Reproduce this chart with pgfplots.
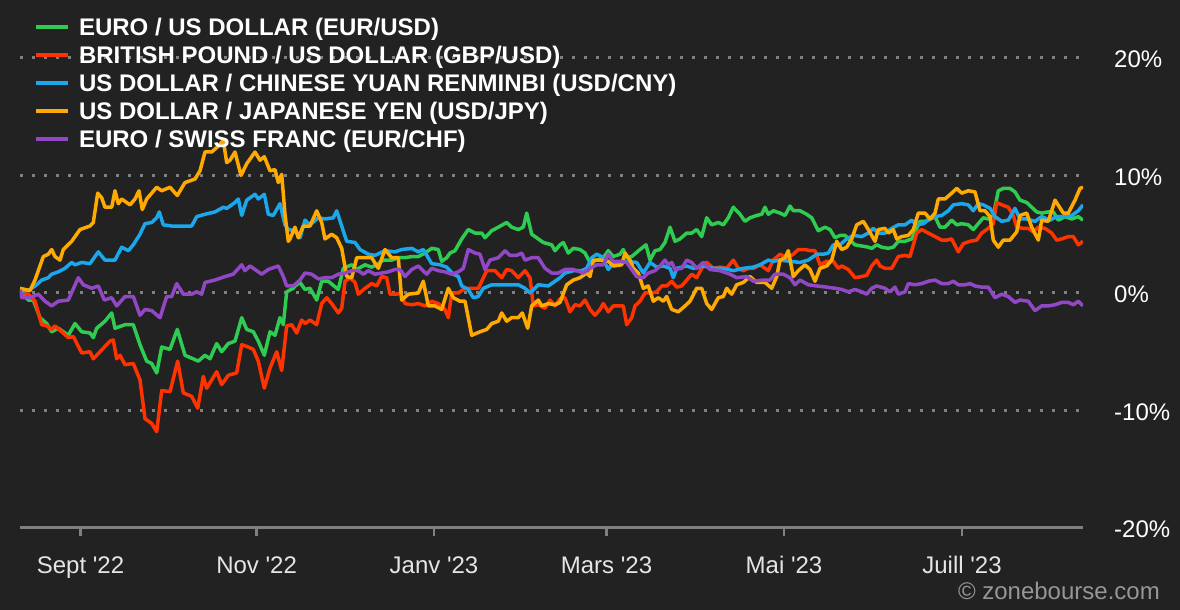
\documentclass[border=0pt]{standalone}
\usepackage{fontspec}
\setmainfont{Liberation Sans}
\usepackage{pgfplots}
\pgfplotsset{compat=1.18}
\definecolor{bg}{RGB}{34,34,34}
\definecolor{gridgray}{RGB}{128,128,128}
\definecolor{copygray}{RGB}{150,150,150}
\definecolor{cgreen}{RGB}{46,204,81}
\definecolor{cred}{RGB}{255,51,0}
\definecolor{cblue}{RGB}{26,167,236}
\definecolor{corange}{RGB}{255,170,0}
\definecolor{cpurple}{RGB}{146,72,198}
\newcommand\tickfont{\fontsize{24}{28}\selectfont}
\newcommand\legfont{\fontsize{24}{28}\selectfont\bfseries}
\begin{document}
\begin{tikzpicture}
\fill[bg, use as bounding box] (0,0) rectangle (1180pt,610pt);
\begin{axis}[
  at={(20pt,82pt)}, anchor=south west,
  scale only axis, width=1063pt, height=517pt,
  xmin=20, xmax=1083, ymin=-20, ymax=24,
  enlargelimits=false,
  axis x line*=bottom, axis y line*=right,
  x axis line style={draw=gridgray, line width=3pt},
  y axis line style={draw=none},
  tick align=outside, major tick length=8pt,
  xtick style={draw=gridgray, line width=2.5pt},
  ytick style={draw=none},
  xtick={80.5,256.6,434,606.5,784,962},
  xticklabels={Sept \textquotesingle 22, Nov \textquotesingle 22, Janv \textquotesingle 23, Mars \textquotesingle 23, Mai \textquotesingle 23, Juill \textquotesingle 23},
  ytick={-20,-10,0,10,20},
  yticklabels={-20\%,-10\%,0\%,10\%,20\%},
  xticklabel style={font=\tickfont, text=white!90!black, inner sep=0pt, anchor=base, yshift=-37pt},
  yticklabel style={font=\tickfont, text=white, inner sep=0pt, anchor=base west, xshift=23pt, yshift=-10pt},
  ymajorgrids,
  grid style={draw=gridgray, line width=3pt, dash pattern=on 3pt off 9pt},
  every axis plot post/.append style={line width=3.5pt, line join=round, no markers},
  legend style={at={(axis description cs:0,1)}, anchor=north west, xshift=14pt, yshift=-7.8pt,
    draw=none, fill=none, inner sep=0pt, outer sep=0pt, row sep=11pt,
    font=\legfont, text=white, nodes={inner sep=0pt, text height=17pt, text depth=0pt}},
  legend cell align=left,
  legend image code/.code={\draw[#1, line width=4pt] (0pt,0pt) -- (32pt,0pt); \path (41.3pt,0pt);},
]
\addplot[cgreen] coordinates {
(20,0.1) (28.3,-0.6) (33.3,-0.6) (40,-2.1) (46.7,-2.6) (51.7,-3.3) (58.3,-3.0) (68.3,-3.6) (75,-2.6) (81.7,-3.3) (90,-3.4) (93.3,-3.8) (96.7,-3.0) (105,-2.4) (111.7,-1.7) (115,-3.0) (125,-2.7) (133.3,-2.7) (140,-4.4) (146.7,-5.8) (151.7,-6.0) (156.7,-6.8) (161.7,-4.6) (170,-4.8) (177.3,-3.1) (185,-5.3) (198.3,-5.8) (205,-5.3) (210,-5.6) (216.7,-4.3) (221.7,-5.0) (228.3,-4.3) (235,-4.1) (241.7,-2.1) (246.7,-3.1) (253.3,-3.3) (258.3,-4.1) (264.3,-5.3) (270,-3.3) (275,-3.6) (280,-2.1) (283.3,-2.7) (286.7,0.1) (293.3,0.4)
(295,0.6) (300,0.9) (305,0.3) (310,0.4) (316.7,-0.6) (321.7,1.0) (328.3,1.0) (338.3,0.3) (343.3,2.1) (351.7,2.4) (356.7,2.0) (365,2.4) (371.7,2.2) (376.7,2.4) (383.3,2.8) (391.7,2.8) (398.3,3.0) (405,3.0) (411.7,3.1) (418.3,3.1) (425,3.4) (431.7,3.8) (438.3,3.7) (441.7,2.7) (446.7,3.0) (450,3.4) (455,3.6) (461.7,4.6) (468.3,5.4) (475,5.1) (481.7,5.1) (485,4.7) (491.7,5.3) (498.3,5.6) (506.7,6.0) (511.7,5.6) (518.3,5.4) (523.3,5.6) (526.7,6.8) (531.7,5.0) (538.3,4.6) (543.3,4.3) (551.7,4.1) (555,3.6) (560,4.1)
(563.3,4.3) (568.3,3.4) (573.3,3.8) (580,3.7) (585,3.4) (590,2.6) (596.7,2.8) (603.3,3.0) (608.3,3.6) (613.3,3.1) (620,3.3) (623.3,3.7) (626.7,3.0) (631.7,3.1) (640,3.7) (646,4.1) (650,2.8) (655,3.6) (660,3.7) (665,4.3) (670,5.6) (675,4.4) (680,4.6) (686.7,5.1) (691.7,5.1) (696.7,5.4) (701.7,4.8) (706.7,6.4) (711.7,5.8) (718.3,6.0) (723.3,5.8) (728.3,6.4) (733.3,7.3) (740,6.7) (745,6.1) (750,6.4) (756.7,6.6) (761.7,6.7) (765,7.3) (768.3,6.7) (773.3,7.0) (780,6.8) (785,6.6) (790,7.4) (793.3,7.0) (800,7.0) (806.7,6.7) (811.7,6.4) (818.3,5.3) (825,5.6) (830,5.4) (835,4.7) (840,4.9)
(845,4.9) (850,4.5) (855,4.1) (861.7,4.0) (868.3,3.9) (871.7,3.8) (876.7,4.1) (881.7,3.9) (888.3,3.8) (893.3,3.9) (898.3,4.4) (905,4.4) (911.7,4.6) (916.7,5.5) (920,6.1) (925,6.1) (930,6.3) (935,6.5) (940,5.6) (945,5.6) (951.7,6.2) (956.7,5.8) (961.7,5.9) (968.3,5.8) (973.3,5.4) (978.3,5.9) (983.3,6.4) (988.3,6.3) (993.3,6.6) (998.3,8.7) (1003.3,8.9) (1010,8.9) (1015,8.6) (1020,7.9) (1026.7,7.7) (1031.7,7.3) (1036.7,6.9) (1041.7,6.8) (1048.3,6.9) (1053.3,6.9) (1058.3,6.2) (1065,6.5) (1071.7,6.3) (1078.3,6.5) (1083,6.2)
};
\addlegendentry{EURO / US DOLLAR (EUR/USD)}
\addplot[cred] coordinates {
(20,0.0) (28.3,-0.1) (35,-0.7) (41.7,-2.7) (46.7,-2.8) (51.7,-3.1) (55,-2.8) (61.7,-3.3) (68.3,-3.8) (73.3,-3.7) (81.7,-5.1) (90,-5.0) (93.3,-5.6) (96.7,-5.3) (103.3,-4.7) (110,-4.1) (113.3,-4.0) (116.7,-5.6) (120,-5.3) (125,-6.1) (133.3,-6.0) (140,-7.4) (145,-10.7) (151.7,-11.1) (156.7,-11.8) (161.7,-8.3) (170,-8.4) (177.7,-5.8) (183.3,-8.5) (191.7,-8.8) (197.7,-9.8) (203.3,-7.1) (206.7,-8.1) (216.7,-6.7) (221.7,-7.8) (228.3,-7.0) (236.7,-6.8) (241.7,-4.4) (248.3,-4.6) (253.3,-4.8) (258.3,-5.8) (264.3,-8.1) (270,-6.4) (276.7,-5.0) (281.7,-6.6) (286.7,-2.8)
(291.7,-2.7) (296.7,-3.4) (301.7,-2.3) (305,-2.6) (310,-2.3) (316.7,-2.7) (321.7,-0.9) (326.7,-0.4) (331.7,-0.9) (338.3,-1.7) (341.7,-1.3) (345,1.0) (350,1.3) (355,0.9) (358.3,-0.1) (365,0.4) (371.7,0.8) (376.7,0.6) (381.7,1.4) (386.7,1.3) (390,-0.1) (396.7,-0.1) (400,0.0) (405,-0.9) (411.7,-1.0) (418.3,-0.9) (425,-1.1) (431.7,-0.7) (438.3,-0.9) (445,-1.4) (448.3,-2.1) (451.7,0.0) (458.3,0.0) (465,0.4) (471.7,0.4) (478.3,0.4) (481.7,1.0) (486.7,1.9) (495,1.9) (501.7,1.3) (506.7,2.0) (511.7,1.9) (518.3,1.3) (525,1.9) (530,1.3) (533.3,-1.1) (538.3,-1.0) (545,-1.3) (550,-0.6) (555,-1.1) (560,-0.5)
(565,-0.4) (570,-1.6) (575,-1.0) (580,-1.1) (585,-0.6) (590,-1.4) (595,-1.9) (600,-1.4) (603.3,-0.9) (608.3,-1.6) (613.3,-1.1) (623.3,-1.1) (626.7,-2.7) (631.7,-2.1) (635,-1.1) (640,-0.7) (645,0.0) (651.7,0.0) (656.7,0.1) (661.7,0.6) (666.7,0.6) (671.7,1.0) (676.7,0.5) (681.7,0.6) (686.7,1.1) (691.7,1.6) (696.7,1.3) (701.7,2.1) (706.7,2.6) (713.3,2.1) (720,2.2) (726.7,2.1) (733.3,2.8) (738.3,2.1) (743.3,1.9) (748.3,2.1) (753.3,2.1) (760,2.4) (768.3,1.9) (773.3,2.8) (780,3.3) (786.7,3.0) (793.3,3.3) (798.3,3.7) (805,3.7) (810,3.6) (815,3.6) (820,2.4) (826.7,2.7) (833.3,2.7) (838.3,2.1)
(841.7,2.3) (848.3,2.0) (855,1.3) (861.7,1.4) (866.7,1.5) (871.7,2.3) (876.7,2.8) (880,2.3) (885,2.1) (891.7,2.1) (898.3,3.1) (905,3.2) (910,3.1) (916.7,5.1) (921.7,5.4) (928.3,5.1) (935,4.8) (941.7,4.5) (946.7,4.5) (951.7,4.6) (958.3,3.5) (963.3,4.2) (970,4.4) (976.7,4.5) (981.7,5.1) (988.3,5.5) (993.3,5.9) (996.7,7.7) (1001.7,7.5) (1008.3,7.3) (1013.3,6.6) (1016.7,5.6) (1023.3,5.5) (1028.3,5.5) (1033.3,5.2) (1038.3,5.6) (1045,5.5) (1051.7,5.1) (1056.7,4.5) (1061.7,4.6) (1068.3,4.8) (1073.3,4.8) (1078.3,4.1) (1083,4.4)
};
\addlegendentry{BRITISH POUND / US DOLLAR (GBP/USD)}
\addplot[cblue] coordinates {
(20,0.1) (30,0.3) (36.7,0.7) (41.7,1.1) (48.3,1.3) (51.7,1.6) (58.3,1.8) (65,2.1) (71.7,2.6) (75,2.4) (81.7,2.6) (90,2.5) (98.3,3.5) (105,2.8) (115,2.8) (121.7,3.9) (128.3,3.6) (133.3,4.1) (140,5.0) (145,5.9) (151.7,6.0) (156.7,6.4) (159.3,6.9) (163.3,5.8) (171.7,5.7) (191.7,5.7) (196.7,6.5) (205,6.7) (215,6.9) (223.3,7.3) (226.7,7.2) (235,7.7) (238.3,8.0) (241.7,6.6) (246.7,7.9) (255,8.4) (258.3,8.0) (264.3,8.4) (268.3,6.7) (273.3,6.6) (280,7.6) (285,5.8)
(288.3,5.4) (295,5.3) (300,4.7) (305,6.2) (310,5.8) (318.3,6.4) (325,6.3) (333.3,6.4) (336.7,7.0) (341.7,5.7) (346.7,4.4) (355,4.3) (360,3.7) (368.3,3.3) (375,3.2) (385,3.6) (395,3.5) (401.7,3.7) (411.7,3.8) (418.3,3.5) (423.3,3.7) (431.7,2.5) (440,2.4) (446.7,2.2) (453.3,1.6) (458.3,1.4) (461.7,0.6) (468.3,0.3) (473.3,-0.4) (478.3,-0.3) (483.3,0.4) (491.7,0.7) (505,0.7) (518.3,0.7) (525,0.4) (530,0.0) (538.3,0.7) (548.3,0.6) (555,1.0) (560,1.3)
(565,1.7) (573.3,1.9) (581.7,1.9) (586.7,2.1) (591.7,3.0) (596.7,3.3) (601.7,3.1) (608.3,2.0) (613.3,2.6) (620,2.6) (626.7,2.7) (636.7,2.6) (643.3,1.7) (650,2.6) (656.7,2.2) (663.3,2.3) (670,2.1) (673.3,1.3) (676.7,2.1) (686.7,2.3) (693.3,2.1) (703.3,2.3) (713.3,2.1) (723.3,2.1) (733.3,1.9) (743.3,2.1) (753.3,2.2) (760,2.4) (768.3,2.8) (773.3,2.7) (780,2.8) (790,2.7) (800,2.6) (808.3,2.8) (816.7,3.3) (823.3,3.3) (828.3,3.4) (833.3,4.1)
(840,4.1) (846.7,4.6) (853.3,4.9) (861.7,4.8) (868.3,5.1) (873.3,5.5) (878.3,5.1) (885,5.1) (891.7,5.5) (898.3,5.8) (905,5.8) (911.7,6.2) (916.7,5.8) (923.3,5.9) (928.3,6.2) (935,6.5) (941.7,6.6) (948.3,7.0) (953.3,7.5) (961.7,7.6) (968.3,7.5) (973.3,7.0) (978.3,7.6) (983.3,7.5) (990,7.2) (995,6.5) (1001.7,6.1) (1008.3,6.2) (1015,7.2) (1020,6.3) (1026.7,6.3) (1035,6.1) (1041.7,6.5) (1050,6.2) (1056.7,6.5) (1065,6.5) (1071.7,6.6) (1078.3,7.0) (1083,7.5)
};
\addlegendentry{US DOLLAR / CHINESE YUAN RENMINBI (USD/CNY)}
\addplot[corange] coordinates {
(20,0.4) (30,0.2) (35,1.1) (43.3,3.1) (48.3,3.3) (51.7,3.7) (55,3.1) (60,2.8) (63.3,3.7) (71.7,4.4) (80,5.4) (90,5.7) (93.3,6.0) (97.7,8.5) (101.7,8.1) (105,7.3) (111.7,7.3) (115,8.7) (118.3,7.6) (121.7,8.0) (130,7.5) (135,8.0) (139,8.7) (142.3,7.1) (146.7,8.0) (156.7,9.0) (161.7,8.7) (170,9.0) (177.3,8.3) (185,9.4) (195,9.7) (200,10.4) (205,12.0) (211.7,12.0) (218.3,12.5) (223.3,13.0) (226.7,11.1) (230,11.3) (235,12.0) (241,10.0) (246.7,11.0) (255,12.0) (260,11.3) (264.3,11.6) (270,10.4) (275,10.5) (278.3,9.4) (281.7,10.1) (285,6.7) (288.3,4.4)
(290,4.6) (295,5.6) (298.3,4.7) (303.3,5.7) (310,5.7) (316.7,7.0) (321.7,6.0) (325,4.6) (331.7,5.0) (336.7,4.7) (341.7,3.8) (346.7,1.4) (351.7,1.3) (356.7,3.0) (363.3,3.0) (371.7,3.0) (378.3,2.1) (385,3.7) (391.7,3.0) (398.3,3.0) (401.7,-0.6) (408.3,-0.1) (418.3,0.0) (423.3,1.0) (428.3,-1.1) (435,-1.1) (441.7,-1.4) (448.3,0.4) (453.3,-0.4) (460,-0.7) (465,-0.7) (471.7,-3.6) (480,-3.3) (486.7,-3.1) (491.7,-2.6) (498.3,-2.4) (501.7,-1.7) (506.7,-2.4) (511.7,-2.1) (518.3,-2.1) (522.3,-1.7) (527.7,-3.0) (531.7,-1.1) (538.3,-0.6) (541.7,-1.1) (548.3,-0.9) (555,-1.0) (560,-0.8)
(566.7,0.7) (573.3,1.1) (580,1.3) (586.7,1.7) (590,1.4) (593.3,2.8) (600,2.8) (608.3,2.7) (613.3,2.3) (621.7,2.4) (625,3.4) (630,2.8) (633.3,2.1) (638.3,1.7) (643.3,0.4) (648.3,0.6) (653.3,-0.7) (658.3,-0.4) (663.3,-0.7) (666.7,-0.3) (671.7,-1.4) (678.3,-1.6) (685,-1.1) (690,-0.7) (696.7,0.4) (701.7,0.4) (706.7,-0.9) (711.7,-1.4) (718.3,-0.4) (723.3,-0.3) (726.7,0.4) (731.7,-0.1) (736.7,0.7) (743.3,0.9) (750,1.4) (756.7,0.9) (765,0.9) (771.7,0.4) (776.7,1.4) (780,2.8) (785,3.0) (788.3,3.6) (793.3,1.4) (798.3,1.9) (805,2.4) (810,2.0) (815,1.0) (820,2.1) (826.7,2.3) (831.7,2.8) (836.7,4.4)
(841.7,3.7) (846.7,3.9) (851.7,4.6) (856.7,5.8) (863.3,6.1) (868.3,5.4) (875,4.4) (878.3,5.4) (885,5.5) (888.3,5.1) (893.3,5.4) (896.7,4.6) (901.7,4.8) (908.3,4.9) (913.3,5.4) (918.3,6.8) (925,6.8) (930,6.3) (935,6.8) (938.3,8.0) (945,8.0) (951.7,8.5) (956.7,8.9) (961.7,8.5) (968.3,8.7) (975,8.6) (980,7.0) (985,7.0) (990,6.5) (993.3,4.5) (998.3,3.9) (1003.3,4.5) (1010,4.5) (1016.7,5.2) (1020,6.6) (1026.7,6.8) (1031.7,5.6) (1038.3,4.5) (1041.7,6.2) (1048.3,6.1) (1055,7.9) (1063.3,6.8) (1068.3,6.8) (1075,7.9) (1080,8.9) (1083,9.0)
};
\addlegendentry{US DOLLAR / JAPANESE YEN (USD/JPY)}
\addplot[cpurple] coordinates {
(20,0.3) (21.7,-0.4) (30,-0.4) (38.3,-0.1) (45,-0.7) (51.7,-1.1) (58.3,-0.7) (68.3,-0.6) (78.3,1.3) (83.3,0.7) (91.7,0.4) (98.3,0.6) (104.3,-0.6) (111.7,-0.4) (116.7,-1.1) (125,-0.3) (133.3,-0.3) (140,-1.9) (145,-1.4) (151.7,-1.5) (160,-2.1) (166.7,-0.3) (171.7,-0.3) (176.7,0.8) (183.3,-0.1) (191.7,-0.1) (196.7,0.1) (201.7,-0.1) (205,0.9) (215,1.1) (225,1.4) (233.3,1.6) (241.7,2.4) (245,1.9) (250,2.3) (261.7,1.6) (268.3,2.0) (278.3,2.3) (283.3,1.4) (286.7,0.6) (293.3,0.6)
(300,1.1) (305,1.7) (311.7,1.6) (318.3,1.2) (325,1.3) (331.7,1.3) (338.3,1.6) (345,1.7) (351.7,1.9) (358.3,1.9) (363.3,1.6) (368.3,1.9) (375,1.6) (381.7,1.7) (388.3,1.8) (395,2.0) (400,2.0) (405,1.4) (411.7,2.0) (418.3,2.3) (426.7,1.6) (431.7,2.1) (438.3,1.9) (445,1.8) (451.7,1.6) (458.3,1.8) (463.3,2.1) (468.3,3.7) (475,3.4) (480,3.3) (485,2.0) (490,2.8) (498.3,3.0) (505,3.6) (510,3.2) (516.7,3.2) (521.7,3.4) (525,2.8) (531.7,3.0) (538.3,3.0) (545,2.1) (551.7,1.7) (558.3,1.7)
(565,2.0) (573.3,2.0) (583.3,1.7) (590,2.1) (596.7,2.4) (603.3,2.4) (608.3,3.3) (613.3,2.7) (620,2.7) (626.7,2.6) (631.7,2.0) (636.7,1.4) (643.3,1.3) (648.3,1.7) (655,1.9) (660,2.3) (665,2.8) (668.3,2.4) (671.7,2.6) (675,2.0) (681.7,2.1) (686.7,2.8) (691.7,2.6) (696.7,2.1) (703.3,2.6) (710,2.0) (720,1.9) (730,1.6) (736.7,1.3) (746.7,1.4) (753.3,1.0) (763.3,1.1) (770,1.1) (775,1.6) (783.3,1.6) (790,1.3) (795,0.7) (800,1.1) (808.3,0.7) (816.7,0.6) (826.7,0.5) (835,0.4)
(841.7,0.3) (848.3,0.1) (855,0.3) (861.7,0.1) (866.7,-0.1) (871.7,0.4) (876.7,0.6) (885,0.4) (890,0.1) (895,0.5) (898.3,-0.1) (905,0.1) (908.3,0.8) (915,0.7) (921.7,0.8) (928.3,1.0) (935,1.1) (941.7,0.8) (948.3,0.8) (953.3,1.0) (958.3,0.7) (965,0.7) (970,0.8) (975,0.6) (981.7,0.5) (988.3,0.5) (995,-0.4) (1001.7,-0.1) (1008.3,-0.3) (1015,-0.8) (1020,-0.6) (1028.3,-0.7) (1035,-1.5) (1041.7,-1.1) (1048.3,-1.1) (1055,-1.0) (1061.7,-0.8) (1068.3,-0.8) (1073.3,-1.0) (1078.3,-0.7) (1083,-1.1)
};
\addlegendentry{EURO / SWISS FRANC (EUR/CHF)}
\end{axis}
\node[anchor=base east, font=\tickfont, text=copygray, inner sep=0pt] at (1160pt,10pt) {© zonebourse.com};
\end{tikzpicture}
\end{document}
